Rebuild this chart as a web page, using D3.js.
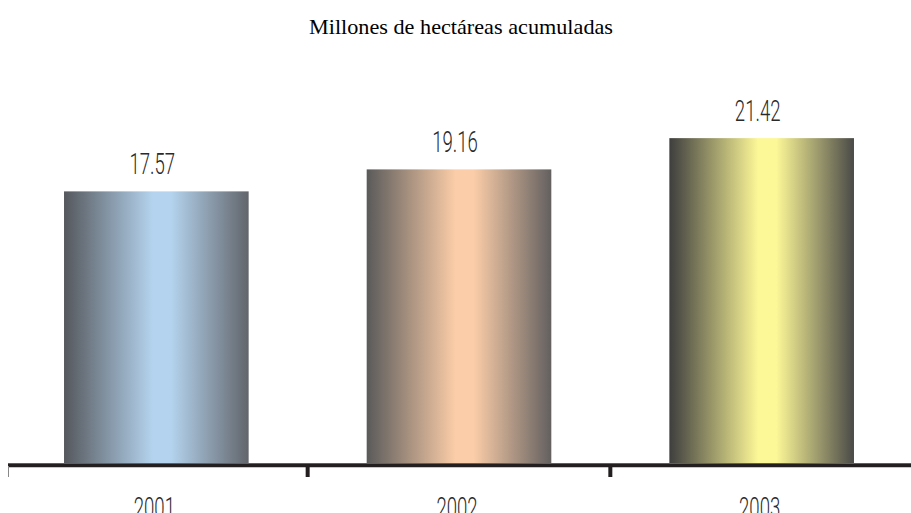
<!DOCTYPE html>
<html>
<head>
<meta charset="utf-8">
<script src="https://cdn.jsdelivr.net/npm/d3@7"></script>
<style>
  html, body { margin: 0; padding: 0; background: #fff; overflow: hidden; }
  svg { display: block; }
</style>
</head>
<body>
<svg id="chart" width="911" height="513"></svg>
<script>
const categories = ["2001", "2002", "2003"];
const values = [17.57, 19.16, 21.42];
const valueLabels = ["17.57", "19.16", "21.42"];
const centerColors = ["#b4d3ee", "#fbcda8", "#fcf797"];
const edgeLeftColors = ["#55585d", "#5a5a5a", "#3e3e3e"];
const edgeRightColors = ["#62656b", "#636060", "#4a4a48"];
const title = "Millones de hectáreas acumuladas";

const svg = d3.select("#chart");
const W = 911, H = 513;
const baseY = 463;

const x = d3.scaleBand().domain(categories).range([5, 913]).paddingInner(0.39).paddingOuter(0.195);
const y = d3.scaleLinear().domain([-2.07, 22]).range([baseY, baseY - 13.83 * 24.07]);

const defs = svg.append("defs");
categories.forEach((c, i) => {
  const g = defs.append("linearGradient").attr("id", "grad" + i)
    .attr("x1", "0%").attr("x2", "100%").attr("y1", "0%").attr("y2", "0%");
  g.append("stop").attr("offset", "0%").attr("stop-color", edgeLeftColors[i]);
  g.append("stop").attr("offset", "48%").attr("stop-color", centerColors[i]);
  g.append("stop").attr("offset", "58%").attr("stop-color", centerColors[i]);
  g.append("stop").attr("offset", "100%").attr("stop-color", edgeRightColors[i]);
});

svg.append("text")
  .attr("x", 461).attr("y", 34)
  .attr("text-anchor", "middle")
  .attr("font-family", "Liberation Serif, serif")
  .attr("font-size", 21)
  .attr("fill", "#000")
  .attr("textLength", 304).attr("lengthAdjust", "spacingAndGlyphs")
  .text(title);

svg.selectAll("rect.bar").data(values).join("rect")
  .attr("class", "bar")
  .attr("x", (d, i) => x(categories[i]))
  .attr("width", x.bandwidth())
  .attr("y", d => y(d))
  .attr("height", d => baseY - y(d))
  .attr("fill", (d, i) => `url(#grad${i})`);

const labelFont = "Roboto, Liberation Sans Narrow, sans-serif";

svg.selectAll("g.vlabel").data(values).join("g")
  .attr("class", "vlabel")
  .attr("transform", (d, i) => `translate(${x(categories[i]) + x.bandwidth() / 2 - 4},${y(d) - 17}) scale(0.62,1)`)
  .append("text")
  .attr("text-anchor", "middle")
  .attr("font-family", labelFont)
  .attr("font-weight", 300)
  .attr("font-size", 30)
  .attr("fill", "#2a2a2a")
  .text((d, i) => valueLabels[i]);

// axis
const axisG = svg.append("g");
axisG.append("line").attr("x1", 8).attr("x2", W).attr("y1", 463.5).attr("y2", 463.5)
  .attr("stroke", "#777").attr("stroke-width", 1);
axisG.append("line").attr("x1", 8).attr("x2", W).attr("y1", 465.5).attr("y2", 465.5)
  .attr("stroke", "#231f20").attr("stroke-width", 3.5);
axisG.append("line").attr("x1", 8.5).attr("x2", 8.5).attr("y1", 466).attr("y2", 477)
  .attr("stroke", "#888").attr("stroke-width", 1);
const step = x.step();
const tickXs = categories.slice(1).map(c => x(c) - step * x.paddingInner() / 2);
axisG.selectAll("line.tick").data(tickXs).join("line")
  .attr("class", "tick")
  .attr("x1", d => d).attr("x2", d => d)
  .attr("y1", 465).attr("y2", 477)
  .attr("stroke", "#231f20").attr("stroke-width", 4);

svg.selectAll("g.xlabel").data(categories).join("g")
  .attr("class", "xlabel")
  .attr("transform", c => `translate(${x(c) + x.bandwidth() / 2 - 2},${518}) scale(0.62,1)`)
  .append("text")
  .attr("text-anchor", "middle")
  .attr("font-family", labelFont)
  .attr("font-weight", 300)
  .attr("font-size", 30)
  .attr("fill", "#2a2a2a")
  .text(c => c);
</script>
</body>
</html>
